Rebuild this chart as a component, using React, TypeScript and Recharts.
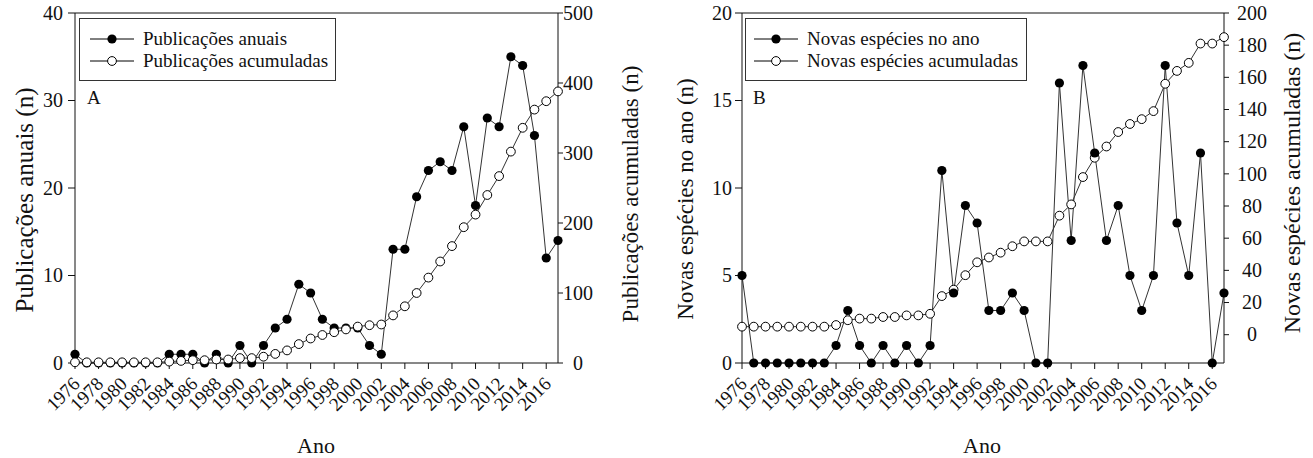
import { LineChart, Line, XAxis, YAxis, ReferenceLine, Legend } from "recharts";

const years = [
  1976, 1977, 1978, 1979, 1980, 1981, 1982, 1983, 1984, 1985, 1986, 1987, 1988, 1989,
  1990, 1991, 1992, 1993, 1994, 1995, 1996, 1997, 1998, 1999, 2000, 2001, 2002, 2003,
  2004, 2005, 2006, 2007, 2008, 2009, 2010, 2011, 2012, 2013, 2014, 2015, 2016, 2017,
];
const yearTicks = [
  1976, 1978, 1980, 1982, 1984, 1986, 1988, 1990, 1992, 1994, 1996, 1998, 2000, 2002,
  2004, 2006, 2008, 2010, 2012, 2014, 2016,
];

// painel A
const pubAnuais = [
  1, 0, 0, 0, 0, 0, 0, 0, 1, 1, 1, 0, 1, 0, 2, 0, 2, 4, 5, 9, 8, 5, 4, 4, 4, 2, 1, 13,
  13, 19, 22, 23, 22, 27, 18, 28, 27, 35, 34, 26, 12, 14,
];
const pubAcumuladas = [
  1, 1, 1, 1, 1, 1, 1, 1, 2, 3, 4, 4, 5, 5, 7, 7, 9, 13, 18, 27, 35, 40, 44, 48, 52, 54,
  55, 68, 81, 100, 122, 145, 167, 194, 212, 240, 267, 302, 336, 362, 374, 388,
];
const ticksAnuais = [0, 10, 20, 30, 40];
const ticksPubAcum = [0, 100, 200, 300, 400, 500];

// painel B
const espAno = [
  5, 0, 0, 0, 0, 0, 0, 0, 1, 3, 1, 0, 1, 0, 1, 0, 1, 11, 4, 9, 8, 3, 3, 4, 3, 0, 0, 16,
  7, 17, 12, 7, 9, 5, 3, 5, 17, 8, 5, 12, 0, 4,
];
const espAcumuladas = [
  5, 5, 5, 5, 5, 5, 5, 5, 6, 9, 10, 10, 11, 11, 12, 12, 13, 24, 28, 37, 45, 48, 51, 55,
  58, 58, 58, 74, 81, 98, 110, 117, 126, 131, 134, 139, 156, 164, 169, 181, 181, 185,
];
const ticksEspAno = [0, 5, 10, 15, 20];
const ticksEspAcum = [0, 20, 40, 60, 80, 100, 120, 140, 160, 180, 200];

const dataA = years.map((year, i) => ({ year, anuais: pubAnuais[i], acum: pubAcumuladas[i] }));
const dataB = years.map((year, i) => ({ year, ano: espAno[i], acum: espAcumuladas[i] }));

const FONT = '"Liberation Serif", "Times New Roman", Times, serif';
const INK = "#111";
const LINE = "#333";

const filledDot = (p: any) => (
  <circle key={`f${p.index}`} cx={p.cx} cy={p.cy} r={4.6} fill="#000" />
);
const openDot = (p: any) => (
  <circle key={`o${p.index}`} cx={p.cx} cy={p.cy} r={4.4} fill="#fff" stroke="#000" strokeWidth={1} />
);

const YearTick = ({ x, y, payload }: any) => {
  const ax = x + 6;
  const ay = y + 14;
  return (
    <text
      x={ax}
      y={ay}
      transform={`rotate(-45 ${ax} ${ay})`}
      textAnchor="end"
      style={{ fontSize: 19, fontFamily: FONT, fill: INK }}
    >
      {payload.value}
    </text>
  );
};

const NumTick = ({ x, y, payload, anchor, dx }: any) => (
  <text
    x={x + (dx || 0)}
    y={y}
    dy="0.34em"
    textAnchor={anchor}
    style={{ fontSize: 20, fontFamily: FONT, fill: INK }}
  >
    {payload.value}
  </text>
);

const vLabel = (text: string, x: number, y: number, size: number) => () => (
  <text
    x={x}
    y={y}
    transform={`rotate(-90 ${x} ${y})`}
    textAnchor="middle"
    dominantBaseline="central"
    style={{ fontSize: size, fontFamily: FONT, fill: INK }}
  >
    {text}
  </text>
);

const xLabel = (x: number) => () => (
  <text x={x} y={453} textAnchor="middle" style={{ fontSize: 22, fontFamily: FONT, fill: INK }}>
    Ano
  </text>
);

const LegendBox = ({ width, lineFrom, items }: { width: number; lineFrom: number; items: { label: string; open: boolean }[] }) => (
  <div
    style={{
      width,
      height: 63,
      boxSizing: "border-box",
      border: "1.5px solid #333",
      background: "#fff",
      fontFamily: FONT,
      fontSize: 19,
      color: INK,
      paddingTop: 9,
    }}
  >
    {items.map((it) => (
      <div key={it.label} style={{ display: "flex", alignItems: "center", height: 22 }}>
        <svg width={lineFrom + 53} height={14} style={{ flex: "none" }}>
          <line x1={lineFrom} y1={7} x2={lineFrom + 44} y2={7} stroke="#000" strokeWidth={1} />
          {it.open ? (
            <circle cx={lineFrom + 22} cy={7} r={4.4} fill="#fff" stroke="#000" />
          ) : (
            <circle cx={lineFrom + 22} cy={7} r={4.6} fill="#000" />
          )}
        </svg>
        <span style={{ whiteSpace: "nowrap" }}>{it.label}</span>
      </div>
    ))}
  </div>
);

export default function App() {
  return (
    <div
      style={{
        position: "absolute",
        left: 0,
        top: 0,
        width: 1313,
        height: 458,
        background: "#fff",
        fontFamily: FONT,
      }}
    >
      {/* Painel A */}
      <div style={{ position: "absolute", left: 0, top: 0 }}>
        <LineChart width={660} height={458} data={dataA} margin={{ top: 13, right: 0, bottom: 0, left: 0 }}>
          <XAxis
            dataKey="year"
            type="number"
            domain={[1976, 2017]}
            ticks={yearTicks}
            interval={0}
            tick={<YearTick />}
            tickSize={6}
            height={95}
            stroke={INK}
            label={{ content: xLabel(316) }}
          />
          <YAxis
            yAxisId="left"
            domain={[0, 40]}
            ticks={ticksAnuais}
            interval={0}
            width={75}
            tickSize={7}
            tickMargin={5}
            tick={<NumTick anchor="end" />}
            stroke={INK}
            label={{ content: vLabel("Publicações anuais (n)", 24, 200, 25) }}
          />
          <YAxis
            yAxisId="right"
            orientation="right"
            domain={[0, 500]}
            ticks={ticksPubAcum}
            interval={0}
            width={102}
            tickSize={5}
            tickMargin={2}
            tick={<NumTick anchor="middle" dx={13} />}
            stroke={INK}
            label={{ content: vLabel("Publicações acumuladas (n)", 630, 194, 23) }}
          />
          <ReferenceLine yAxisId="left" y={40} stroke={INK} />
          <Legend
            layout="vertical"
            align="center"
            verticalAlign="middle"
            wrapperStyle={{ left: 79, top: 18, width: 257, height: 63 }}
            content={() => (
              <LegendBox
                width={257}
                lineFrom={10}
                items={[
                  { label: "Publicações anuais", open: false },
                  { label: "Publicações acumuladas", open: true },
                ]}
              />
            )}
          />
          <Line
            yAxisId="left"
            dataKey="anuais"
            name="Publicações anuais"
            stroke={LINE}
            strokeWidth={1}
            dot={filledDot}
            isAnimationActive={false}
          />
          <Line
            yAxisId="right"
            dataKey="acum"
            name="Publicações acumuladas"
            stroke={LINE}
            strokeWidth={1}
            dot={openDot}
            isAnimationActive={false}
          />
        </LineChart>
        <div style={{ position: "absolute", left: 87, top: 87, fontFamily: FONT, fontSize: 19, color: INK, lineHeight: "22px" }}>
          A
        </div>
      </div>

      {/* Painel B */}
      <div style={{ position: "absolute", left: 660, top: 0 }}>
        <LineChart width={653} height={458} data={dataB} margin={{ top: 13, right: 0, bottom: 0, left: 0 }}>
          <XAxis
            dataKey="year"
            type="number"
            domain={[1976, 2017]}
            ticks={yearTicks}
            interval={0}
            tick={<YearTick />}
            tickSize={6}
            height={95}
            stroke={INK}
            label={{ content: xLabel(322) }}
          />
          <YAxis
            yAxisId="left"
            domain={[0, 20]}
            ticks={ticksEspAno}
            interval={0}
            width={82}
            tickSize={7}
            tickMargin={3}
            tick={<NumTick anchor="end" />}
            stroke={INK}
            label={{ content: vLabel("Novas espécies no ano (n)", 25, 199, 23) }}
          />
          <YAxis
            yAxisId="right"
            orientation="right"
            domain={[-17.6, 200]}
            ticks={ticksEspAcum}
            interval={0}
            width={89}
            tickSize={5}
            tickMargin={2}
            tick={<NumTick anchor="middle" dx={21} />}
            stroke={INK}
            label={{ content: vLabel("Novas espécies acumuladas (n)", 632, 183, 24) }}
          />
          <ReferenceLine yAxisId="left" y={20} stroke={INK} />
          <Legend
            layout="vertical"
            align="center"
            verticalAlign="middle"
            wrapperStyle={{ left: 85, top: 18, width: 282, height: 63 }}
            content={() => (
              <LegendBox
                width={282}
                lineFrom={8}
                items={[
                  { label: "Novas espécies no ano", open: false },
                  { label: "Novas espécies acumuladas", open: true },
                ]}
              />
            )}
          />
          <Line
            yAxisId="right"
            dataKey="acum"
            name="Novas espécies acumuladas"
            stroke={LINE}
            strokeWidth={1}
            dot={openDot}
            isAnimationActive={false}
          />
          <Line
            yAxisId="left"
            dataKey="ano"
            name="Novas espécies no ano"
            stroke={LINE}
            strokeWidth={1}
            dot={filledDot}
            isAnimationActive={false}
          />
        </LineChart>
        <div style={{ position: "absolute", left: 93, top: 87, fontFamily: FONT, fontSize: 19, color: INK, lineHeight: "22px" }}>
          B
        </div>
      </div>
    </div>
  );
}
